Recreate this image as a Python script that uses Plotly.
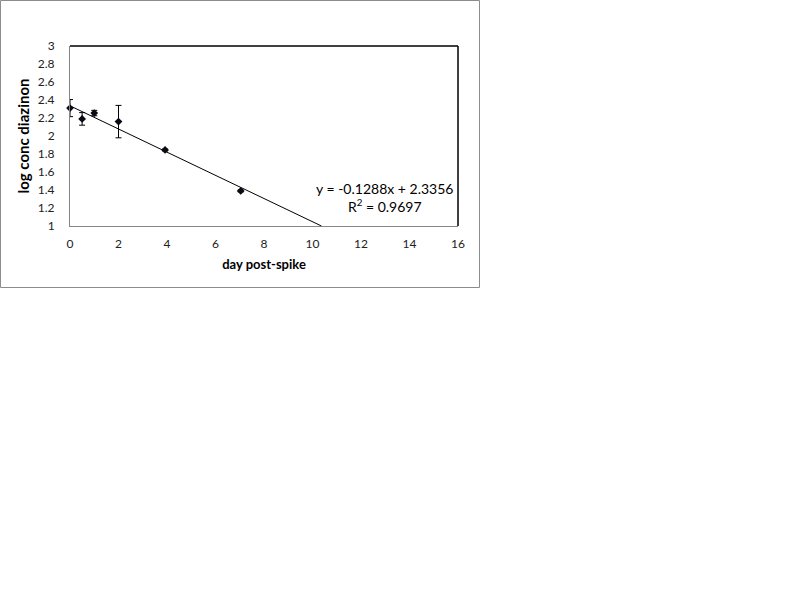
"""
Diazinon decay: log concentration vs day post-spike, with linear trendline
"""
import plotly.graph_objects as go

# measured points
days = [0, 0.5, 1, 2, 3.92, 7.04]
log_conc = [2.31, 2.19, 2.255, 2.16, 1.845, 1.39]
err = [0.095, 0.07, 0.03, 0.18, 0.01, 0.01]

# trendline from Excel fit
slope = -0.1288
intercept = 2.3356
trend_x = [0, (1 - intercept) / slope]
trend_y = [intercept + slope * x for x in trend_x]

x_ticks = [0, 2, 4, 6, 8, 10, 12, 14, 16]
y_ticks = [1, 1.2, 1.4, 1.6, 1.8, 2, 2.2, 2.4, 2.6, 2.8, 3]

# plot area in pixels
L, R, T, B = 70, 458, 46, 226
W, H = 800, 600


def px_x(p):
    return (p - L) / (R - L)


def px_y(p):
    return (B - p) / (B - T)


fig = go.Figure()

fig.add_trace(go.Scatter(
    x=trend_x, y=trend_y, mode='lines',
    line=dict(color='black', width=1),
    hoverinfo='skip', showlegend=False
))

fig.add_trace(go.Scatter(
    x=days, y=log_conc, mode='markers', cliponaxis=False,
    marker=dict(symbol='diamond', size=6, color='#0a0a14'),
    error_y=dict(type='data', array=err, color='black', thickness=1, width=3),
    showlegend=False
))

fig.add_annotation(
    x=px_x(384), y=px_y(197), xref='paper', yref='paper', showarrow=False,
    xanchor='center', yanchor='middle',
    text='y = -0.1288x + 2.3356<br>R<sup>2</sup> = 0.9697',
    align='center', font=dict(size=14, color='black')
)

# outer chart border
fig.add_shape(type='rect', xref='paper', yref='paper',
              x0=px_x(0.5), x1=px_x(479.5), y0=px_y(287.5), y1=px_y(0.5),
              line=dict(color='#8c8c8c', width=1), layer='below')
# top and right plot-area border in black
fig.add_shape(type='line', xref='paper', yref='paper',
              x0=0, x1=1, y0=1, y1=1, line=dict(color='black', width=1.5))
fig.add_shape(type='line', xref='paper', yref='paper',
              x0=1, x1=1, y0=0, y1=1, line=dict(color='black', width=1.5))

fig.update_layout(
    width=W, height=H,
    margin=dict(l=L, r=W - R, t=T, b=H - B),
    plot_bgcolor='white', paper_bgcolor='white',
    font=dict(family='Lato, Open Sans, sans-serif', size=12, color='#222'),
    xaxis=dict(
        range=[0, 16], tickvals=x_ticks, showgrid=False, zeroline=False,
        showline=True, linecolor='#868686', linewidth=1,
        ticks='', ticklabelstandoff=7,
        title=dict(text='<b>day post-spike</b>', font=dict(size=13, color='black'), standoff=9),
    ),
    yaxis=dict(
        range=[1, 3], tickvals=y_ticks, showgrid=False, zeroline=False,
        showline=True, linecolor='#868686', linewidth=1,
        ticks='', ticklabelstandoff=12,
        title=dict(text='<b>log conc diazinon</b>', font=dict(size=15, color='black'), standoff=4),
    ),
)

fig.write_html("out.html", config={'displayModeBar': False},
               post_script="document.body.style.margin='0';")
